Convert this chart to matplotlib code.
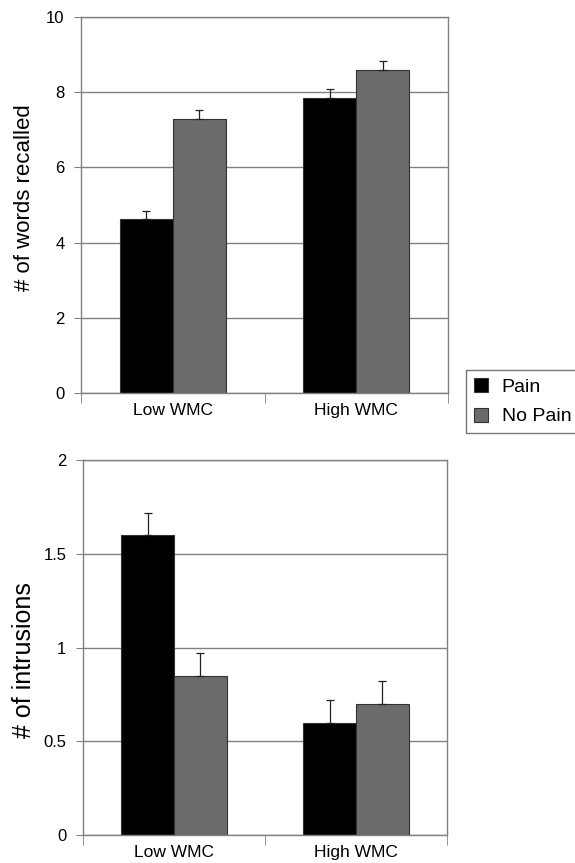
import numpy as np
import matplotlib.pyplot as plt
from matplotlib.patches import Patch

plt.rcParams['font.family'] = ['Liberation Sans', 'DejaVu Sans']

groups = ["Low WMC", "High WMC"]
conditions = ["Pain", "No Pain"]

recall_pain = [4.62, 7.85]
recall_nopain = [7.28, 8.60]
recall_pain_err = [0.23, 0.24]
recall_nopain_err = [0.25, 0.24]

intr_pain = [1.60, 0.60]
intr_nopain = [0.85, 0.70]
intr_pain_err = [0.12, 0.12]
intr_nopain_err = [0.12, 0.12]

colors = ["#000000", "#6b6b6b"]
grid_col = "#808080"


def draw_panel(ax, pain, nopain, pain_err, nopain_err, ylim, yticks, ytlabels,
               ylabel, ylsize, ylpos):
    x = np.arange(len(groups))
    w = 0.29
    for vals, errs, off, c in [(pain, pain_err, -w / 2, colors[0]),
                               (nopain, nopain_err, w / 2, colors[1])]:
        ax.bar(x + off, vals, width=w, color=c, edgecolor="#333333", linewidth=0.8, zorder=2)
        ax.errorbar(x + off, vals, yerr=[np.zeros(len(errs)), errs], fmt="none",
                    ecolor="#222222", elinewidth=0.9, capsize=3, capthick=0.9, zorder=3)
    ax.set_xlim(-0.5, len(groups) - 0.5)
    ax.set_ylim(*ylim)
    ax.set_yticks(yticks)
    ax.set_yticklabels(ytlabels, fontsize=12)
    ax.set_xticks(x)
    ax.set_xticklabels(groups, fontsize=12.5)
    ax.set_xticks(np.arange(-0.5, len(groups)), minor=True)
    ax.tick_params(axis="x", which="major", length=0, pad=7)
    ax.tick_params(axis="x", which="minor", length=7, color=grid_col, direction="out")
    ax.tick_params(axis="y", length=5, color=grid_col, direction="out", pad=7)
    ax.yaxis.grid(True, color=grid_col, linewidth=1.0, zorder=0)
    ax.set_axisbelow(True)
    for s in ax.spines.values():
        s.set_color(grid_col)
        s.set_linewidth(1.0)
    ax.set_ylabel(ylabel, fontsize=ylsize, va="center")
    ax.yaxis.set_label_coords(*ylpos)


fig = plt.figure(figsize=(5.75, 8.63), dpi=100)
ax1 = fig.add_axes([0.141, 0.5446, 0.638, 0.4357])
ax2 = fig.add_axes([0.1443, 0.0324, 0.6331, 0.4345])

draw_panel(ax1, recall_pain, recall_nopain, recall_pain_err, recall_nopain_err,
           (0, 10), [0, 2, 4, 6, 8, 10], ["0", "2", "4", "6", "8", "10"],
           "# of words recalled", 16, (-0.153, 0.519))
draw_panel(ax2, intr_pain, intr_nopain, intr_pain_err, intr_nopain_err,
           (0, 2), [0, 0.5, 1, 1.5, 2], ["0", "0.5", "1", "1.5", "2"],
           "# of intrusions", 18, (-0.162, 0.467))

handles = [Patch(facecolor=c, edgecolor="#333333", linewidth=0.8) for c in colors]
fig.legend(handles, conditions, loc="upper left", bbox_to_anchor=(0.81, 0.571),
           fontsize=14, frameon=True, fancybox=False, edgecolor="#555555",
           handlelength=0.75, handleheight=0.75, handletextpad=0.7,
           borderaxespad=0, borderpad=0.4, labelspacing=0.6)

fig.savefig("out.png", dpi=100)
